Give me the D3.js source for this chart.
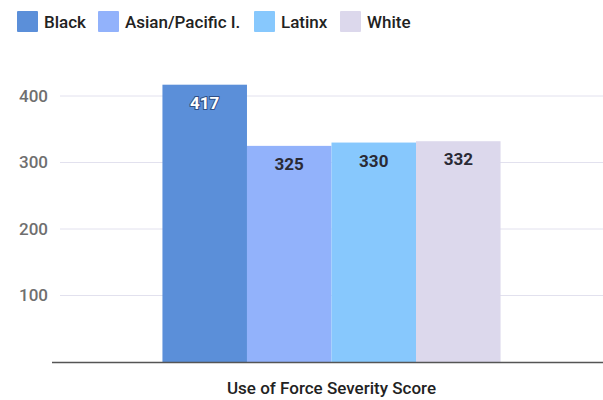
<!DOCTYPE html>
<html>
<head>
<meta charset="utf-8">
<script src="https://cdn.jsdelivr.net/npm/d3@7"></script>
<style>
  html, body { margin: 0; padding: 0; background: #fff; }
  svg { display: block; font-family: Roboto, "Noto Sans", sans-serif; }
</style>
</head>
<body>
<svg id="chart" width="603" height="400"></svg>
<script>
// Average use-of-force severity score by race
const groups = ["Black", "Asian/Pacific I.", "Latinx", "White"];
const scores = [417, 325, 330, 332];
const category = ["Use of Force Severity Score"];
const yTicks = [100, 200, 300, 400];
const colors = ["#5b8fd9", "#92b2fb", "#87c8fd", "#dcd8ec"];

const svg = d3.select("#chart");
const W = 603;
const margin = { left: 60, right: 0 };

const y = d3.scaleLinear().domain([0, 400]).range([362, 96]);

const x0 = d3.scaleBand()
  .domain(category)
  .range([margin.left, W - margin.right])
  .paddingInner(0)
  .paddingOuter(0.303);

const x1 = d3.scaleBand()
  .domain(groups)
  .range([0, x0.bandwidth()])
  .padding(0);

// Gridlines
svg.append("g").attr("class", "grid")
  .selectAll("line")
  .data(yTicks)
  .join("line")
  .attr("x1", 60)
  .attr("x2", W)
  .attr("y1", d => y(d))
  .attr("y2", d => y(d))
  .attr("stroke", "#e2e1ee")
  .attr("stroke-width", 1);

// Y axis labels
const yAxis = d3.axisLeft(y).tickValues(yTicks).tickSize(0).tickPadding(0);
const ya = svg.append("g")
  .attr("transform", "translate(48,0)")
  .call(yAxis);
ya.select(".domain").remove();
ya.selectAll("text")
  .attr("fill", "#6f6f6f")
  .attr("font-size", 17)
  .attr("font-weight", 500)
  .attr("font-family", "Roboto, sans-serif");

// Bars
const barG = svg.append("g")
  .attr("transform", `translate(${x0(category[0])},0)`);

barG.selectAll("rect")
  .data(groups)
  .join("rect")
  .attr("x", d => x1(d))
  .attr("width", x1.bandwidth())
  .attr("y", (d, i) => y(scores[i]))
  .attr("height", (d, i) => y(0) - y(scores[i]))
  .attr("fill", (d, i) => colors[i]);

// Value labels inside the bar tops
barG.selectAll("text.value")
  .data(groups)
  .join("text")
  .attr("class", "value")
  .attr("x", d => x1(d) + x1.bandwidth() / 2)
  .attr("y", (d, i) => y(scores[i]) + 18)
  .attr("dy", "0.35em")
  .attr("text-anchor", "middle")
  .attr("font-size", 17)
  .attr("font-weight", 700)
  .attr("fill", (d, i) => i === 0 ? "#ffffff" : "#2a2a35")
  .attr("stroke", (d, i) => i === 0 ? "#2f4f85" : "none")
  .attr("stroke-width", (d, i) => i === 0 ? 2 : 0)
  .attr("paint-order", "stroke")
  .text((d, i) => scores[i]);

// Baseline
svg.append("line")
  .attr("x1", 52)
  .attr("x2", W)
  .attr("y1", y(0) + 0.5)
  .attr("y2", y(0) + 0.5)
  .attr("stroke", "#555")
  .attr("stroke-width", 1.5);

// Category title
svg.append("text")
  .attr("x", x0(category[0]) + x0.bandwidth() / 2)
  .attr("y", 388)
  .attr("dy", "0.35em")
  .attr("text-anchor", "middle")
  .attr("font-size", 17)
  .attr("font-weight", 500)
  .attr("fill", "#222")
  .text(category[0]);

// Legend
const legendX = [17, 98, 254, 340];
const items = svg.append("g").attr("class", "legend")
  .selectAll("g")
  .data(groups)
  .join("g")
  .attr("transform", (d, i) => `translate(${legendX[i]},11)`);
items.append("rect")
  .attr("width", 21)
  .attr("height", 21)
  .attr("rx", 1)
  .attr("fill", (d, i) => colors[i]);
items.append("text")
  .attr("x", 27)
  .attr("y", 11)
  .attr("dy", "0.35em")
  .attr("font-size", 17)
  .attr("font-weight", 500)
  .attr("fill", "#222")
  .text(d => d);
</script>
</body>
</html>
